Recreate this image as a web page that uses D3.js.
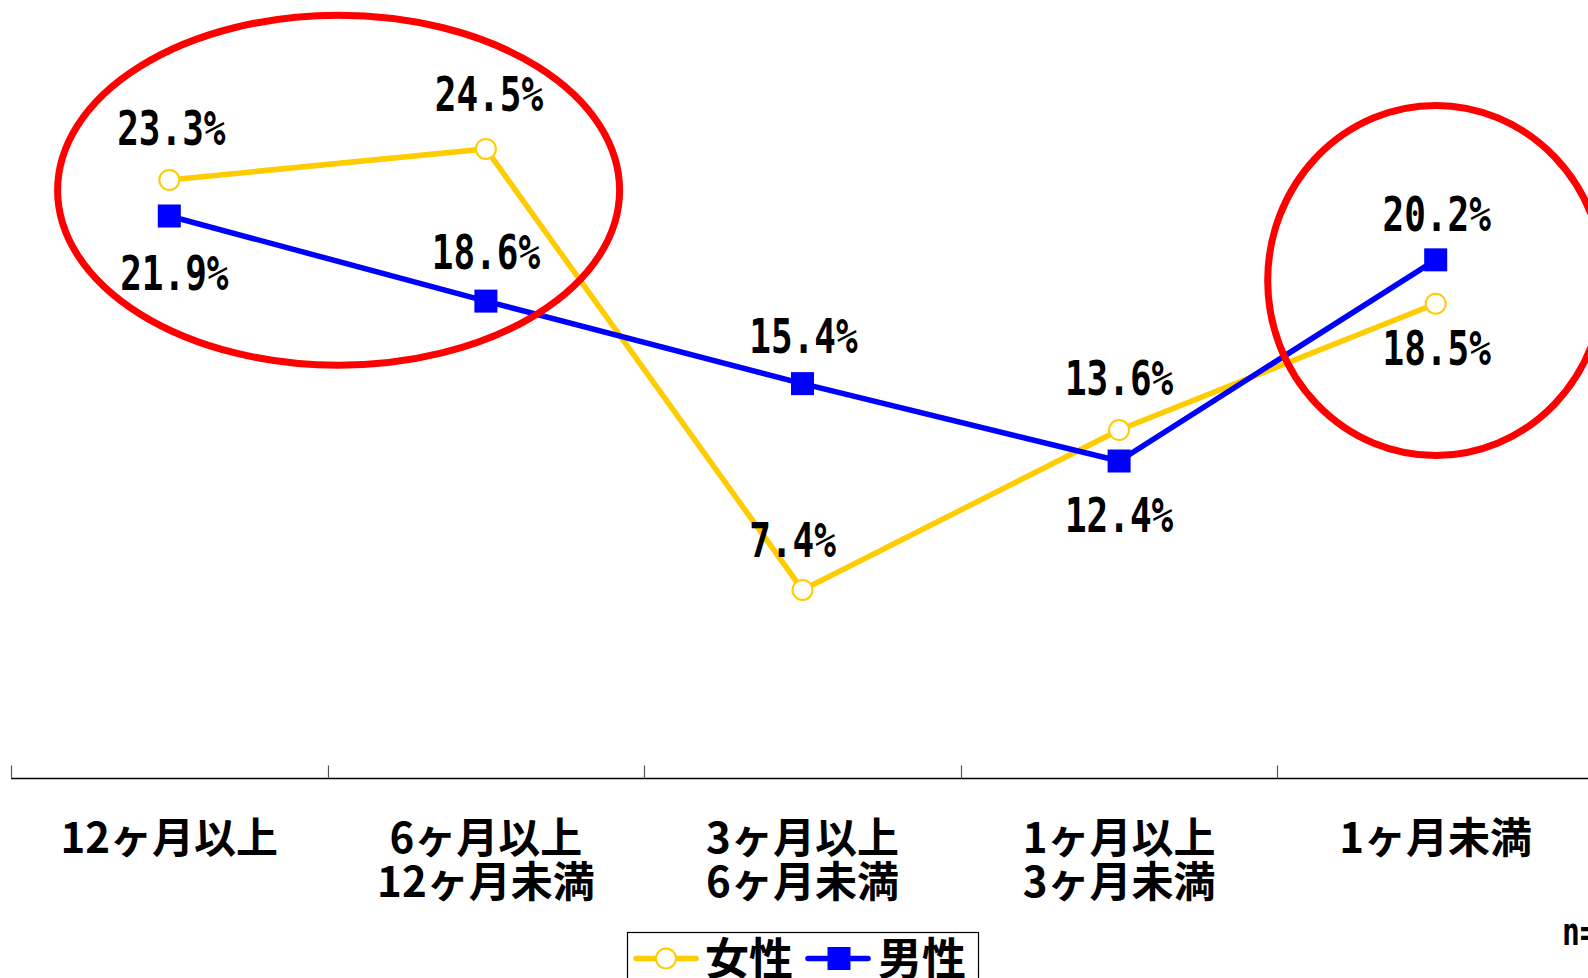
<!DOCTYPE html>
<html>
<head>
<meta charset="utf-8">
<script src="https://cdn.jsdelivr.net/npm/d3@7"></script>
<style>
  html, body { margin: 0; padding: 0; background: #fff; overflow: hidden; }
  svg { display: block; }
</style>
</head>
<body>
<svg id="chart" width="1588" height="978"></svg>
<script>
// ---- data ----
const categories = ["12ヶ月以上", "6ヶ月以上\n12ヶ月未満", "3ヶ月以上\n6ヶ月未満", "1ヶ月以上\n3ヶ月未満", "1ヶ月未満"];
const women = [23.3, 24.5, 7.4, 13.6, 18.5];
const men = [21.9, 18.6, 15.4, 12.4, 20.2];
const seriesNames = ["女性", "男性"];
const sampleNote = "n=";

// ---- layout ----
const W = 1588, H = 978;
const svg = d3.select("#chart");
const x = d3.scaleBand().domain(categories).range([11, 11 + 5 * 316.6]).padding(0);
const y = d3.scaleLinear().domain([0, 30]).range([780.8, 780.8 - 30 * 25.79]);
const cx = c => x(c) + x.bandwidth() / 2;

const GOLD = "#FFCC00", BLUE = "#0000FF", RED = "#FF0000";
const numFont = "'DejaVu Sans Mono', 'Liberation Mono', monospace";
const jpFont = "'Noto Sans CJK JP', 'Noto Sans CJK SC', sans-serif";

// x axis: line with upward ticks at band boundaries
const axisY = 778.5;
const axisG = svg.append("g").attr("transform", `translate(0,${axisY})`);
axisG.append("line").attr("x1", x.range()[0]).attr("x2", W + 10)
  .attr("y1", 0).attr("y2", 0).attr("stroke", "#000").attr("stroke-width", 1.6);
axisG.selectAll("line.tick").data(categories).enter().append("line")
  .attr("class", "tick")
  .attr("x1", d => Math.round(x(d)) + 0.5).attr("x2", d => Math.round(x(d)) + 0.5)
  .attr("y1", 0).attr("y2", -13).attr("stroke", "#555").attr("stroke-width", 1.2);

// category labels
const catG = svg.append("g");
categories.forEach(c => {
  const lines = c.split("\n");
  const t = catG.append("text")
    .attr("x", cx(c)).attr("y", 853)
    .attr("text-anchor", "middle")
    .attr("font-family", jpFont).attr("font-weight", 700)
    .attr("font-size", 42).attr("fill", "#000");
  lines.forEach((l, i) => {
    t.append("tspan").attr("x", cx(c)).attr("dy", i === 0 ? 0 : 44).text(l);
  });
});

// lines
const series = [
  { name: seriesNames[0], values: women, color: GOLD, marker: "circle" },
  { name: seriesNames[1], values: men, color: BLUE, marker: "square" }
];
const lineGen = d3.line().x((d, i) => cx(categories[i])).y(d => y(d));
series.forEach(s => {
  svg.append("path").datum(s.values)
    .attr("d", lineGen).attr("fill", "none")
    .attr("stroke", s.color).attr("stroke-width", 5.5)
    .attr("stroke-linejoin", "miter");
});

// markers
series.forEach(s => {
  const g = svg.append("g");
  if (s.marker === "circle") {
    g.selectAll("circle").data(s.values).enter().append("circle")
      .attr("cx", (d, i) => cx(categories[i])).attr("cy", d => y(d))
      .attr("r", 10).attr("fill", "#fff").attr("stroke", s.color).attr("stroke-width", 2);
  } else {
    const side = 23;
    g.selectAll("rect").data(s.values).enter().append("rect")
      .attr("x", (d, i) => cx(categories[i]) - side / 2).attr("y", d => y(d) - side / 2)
      .attr("width", side).attr("height", side).attr("fill", s.color);
  }
});

// data labels (offsets from the marker to the label baseline)
const labelOffsets = [
  [[2, -35], [3, -38], [-10, -33], [0, -35], [1, 61]],
  [[5, 74], [0, -32], [1, -31], [0, 71], [1, -29]]
];
const fmt = d3.format(".1f");
series.forEach((s, si) => {
  s.values.forEach((v, i) => {
    const [dx, dy] = labelOffsets[si][i];
    svg.append("g")
      .attr("transform", `translate(${cx(categories[i]) + dx},${y(v) + dy}) scale(0.75,1)`)
      .append("text")
      .attr("text-anchor", "middle")
      .attr("font-family", numFont).attr("font-weight", 700)
      .attr("font-size", 48).attr("fill", "#000")
      .text(fmt(v) + "%");
  });
});

// red highlight ellipses
const hl = svg.append("g").attr("fill", "none").attr("stroke", RED).attr("stroke-width", 7);
hl.append("ellipse")
  .attr("cx", (cx(categories[0]) + cx(categories[1])) / 2 + 11)
  .attr("cy", y(22.9))
  .attr("rx", 281).attr("ry", 175);
hl.append("ellipse")
  .attr("cx", cx(categories[4]))
  .attr("cy", y(19.4))
  .attr("rx", 168).attr("ry", 175);

// legend
const lg = svg.append("g");
lg.append("rect").attr("x", 627.5).attr("y", 932.5).attr("width", 351).attr("height", 70)
  .attr("fill", "#fff").attr("stroke", "#000").attr("stroke-width", 1.2);
const legY = 958.5;
// women
lg.append("line").attr("x1", 636).attr("x2", 696).attr("y1", legY).attr("y2", legY)
  .attr("stroke", GOLD).attr("stroke-width", 5.5).attr("stroke-linecap", "round");
lg.append("circle").attr("cx", 666).attr("cy", legY).attr("r", 10)
  .attr("fill", "#fff").attr("stroke", GOLD).attr("stroke-width", 2);
lg.append("text").attr("x", 705).attr("y", 975)
  .attr("font-family", jpFont).attr("font-weight", 700).attr("font-size", 44)
  .attr("fill", "#000").text(seriesNames[0]);
// men
lg.append("line").attr("x1", 808).attr("x2", 868).attr("y1", legY).attr("y2", legY)
  .attr("stroke", BLUE).attr("stroke-width", 5.5).attr("stroke-linecap", "round");
lg.append("rect").attr("x", 839 - 11.5).attr("y", legY - 11.5).attr("width", 23).attr("height", 23)
  .attr("fill", BLUE);
lg.append("text").attr("x", 878).attr("y", 975)
  .attr("font-family", jpFont).attr("font-weight", 700).attr("font-size", 44)
  .attr("fill", "#000").text(seriesNames[1]);

// sample size note (clipped at the right edge in the original)
svg.append("g").attr("transform", "translate(1562,945) scale(0.78,1)")
  .append("text")
  .attr("font-family", numFont).attr("font-weight", 700).attr("font-size", 38)
  .attr("fill", "#000").text(sampleNote);
</script>
</body>
</html>
